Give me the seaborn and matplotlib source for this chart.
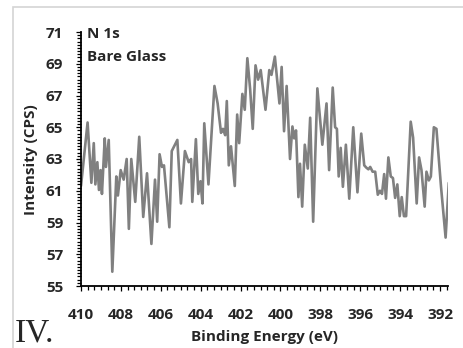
import matplotlib
matplotlib.use("Agg")
import matplotlib.pyplot as plt
import matplotlib.patches as mpatches
from matplotlib.ticker import MultipleLocator
import seaborn as sns
import pandas as pd

# Binding energy (eV) and intensity (CPS)
energy = [410.00, 409.67, 409.48, 409.36, 409.28, 409.18, 409.10, 409.02, 408.95, 408.81,
          408.75, 408.61, 408.43, 408.23, 408.15, 408.01, 407.86, 407.71, 407.60, 407.48,
          407.28, 407.08, 406.88, 406.69, 406.47, 406.29, 406.18, 406.06, 405.94, 405.84,
          405.57, 405.45, 405.17, 404.99, 404.79, 404.60, 404.48, 404.42, 404.24, 404.12,
          404.01, 403.91, 403.82, 403.61, 403.31, 403.15, 402.98, 402.88, 402.77, 402.69,
          402.59, 402.48, 402.29, 402.17, 402.07, 401.91, 401.79, 401.66, 401.52, 401.39,
          401.25, 401.12, 400.99, 400.75, 400.56, 400.45, 400.28, 400.05, 399.94, 399.82,
          399.69, 399.52, 399.40, 399.31, 399.22, 399.10, 399.02, 398.91, 398.78, 398.63,
          398.51, 398.36, 398.15, 397.90, 397.69, 397.56, 397.38, 397.26, 397.17, 397.08,
          396.98, 396.87, 396.72, 396.55, 396.35, 396.14, 395.95, 395.80, 395.69, 395.59,
          395.50, 395.38, 395.25, 395.12, 395.01, 394.91, 394.80, 394.71, 394.59, 394.47,
          394.36, 394.25, 394.14, 394.02, 393.92, 393.81, 393.70, 393.47, 393.35, 393.17,
          393.05, 392.93, 392.77, 392.68, 392.56, 392.46, 392.31, 392.18, 391.95, 391.72,
          391.56]
intensity = [61.3, 65.3, 61.5, 64.0, 61.4, 62.8, 61.05, 62.3, 60.8, 64.3,
             62.5, 64.2, 55.9, 61.9, 60.7, 62.3, 61.7, 63.0, 58.6, 63.0,
             60.3, 64.4, 59.35, 62.1, 57.65, 61.7, 59.05, 63.3, 62.5, 62.6,
             58.7, 63.5, 64.2, 60.2, 63.5, 62.8, 63.0, 60.3, 64.25, 60.8,
             61.6, 60.2, 65.25, 61.4, 67.6, 66.5, 64.65, 64.9, 64.5, 66.65,
             62.6, 63.8, 61.3, 65.8, 64.0, 67.1, 66.1, 69.35, 67.4, 64.9,
             68.9, 68.0, 68.6, 66.1, 68.6, 68.3, 69.45, 66.5, 68.8, 64.75,
             67.6, 63.0, 65.05, 64.3, 64.8, 60.6, 62.7, 60.0, 63.9, 62.4,
             65.6, 59.05, 67.45, 63.9, 66.5, 62.3, 67.5, 65.0, 64.9, 61.9,
             63.7, 61.25, 63.9, 60.5, 65.0, 60.9, 64.6, 62.6, 62.45, 62.35,
             62.5, 62.2, 62.2, 60.75, 61.0, 60.8, 62.05, 60.5, 63.1, 61.9,
             61.8, 60.55, 61.4, 59.4, 60.6, 59.4, 59.4, 65.35, 64.35, 60.2,
             63.1, 62.3, 60.0, 62.2, 61.65, 61.9, 65.0, 64.9, 61.25, 58.05,
             61.5]

y_ticks = [55, 57, 59, 61, 63, 65, 67, 69, 71]
x_ticks = [410, 408, 406, 404, 402, 400, 398, 396, 394, 392]

sns.set_theme(style="white")
plt.rcParams['font.family'] = ['Open Sans', 'DejaVu Sans']

df = pd.DataFrame({"Binding Energy (eV)": energy, "Intensity (CPS)": intensity})

W, H = 464, 348
FS = 11
fig = plt.figure(figsize=(W / 100, H / 100), dpi=100)
# light chart-area border
fig.patches.append(mpatches.Rectangle((13 / W, -0.05), 1.2, 1 - 7 / H + 0.05,
                                      transform=fig.transFigure, fill=False,
                                      edgecolor="#d4d4d4", linewidth=1.2))
ax = fig.add_axes([81 / W, 1 - 286 / H, (448 - 81) / W, (286 - 32) / H])
ax.patch.set_alpha(0)

sns.lineplot(data=df, x="Binding Energy (eV)", y="Intensity (CPS)", ax=ax,
             color="#808080", linewidth=1.9, sort=False)

ax.set_xlim(410, 391.6)
ax.set_ylim(55, 71)
ax.set_xticks(x_ticks)
ax.set_yticks(y_ticks)
ax.xaxis.set_minor_locator(MultipleLocator(1 / 3))
ax.yaxis.set_minor_locator(MultipleLocator(0.2))
for s in ["top", "right"]:
    ax.spines[s].set_visible(False)
for s in ["left", "bottom"]:
    ax.spines[s].set_color("black")
    ax.spines[s].set_linewidth(1.3)
ax.tick_params(axis="both", which="both", direction="out", color="black", width=0.9,
               bottom=True, left=True)
ax.tick_params(axis="both", which="major", length=3.8, labelsize=FS)
ax.tick_params(axis="both", which="minor", length=3)
ax.tick_params(axis="x", which="major", pad=12)
ax.tick_params(axis="y", which="major", pad=9)
for lab in ax.get_xticklabels() + ax.get_yticklabels():
    lab.set_fontweight("bold")

ax.set_xlabel("")
ax.set_ylabel("")
fig.text(265 / W, 1 - 337 / H, "Binding Energy (eV)", ha="center", va="center",
         fontsize=FS, fontweight="bold")
fig.text(31 / W, 1 - 160 / H, "Intensity (CPS)", rotation=90, ha="center", va="center",
         fontsize=FS, fontweight="bold")

fig.text(87 / W, 1 - 34 / H, "N 1s", ha="left", va="center",
         fontsize=FS, fontweight="bold")
fig.text(87 / W, 1 - 57 / H, "Bare Glass", ha="left", va="center",
         fontsize=FS, fontweight="bold")

fig.text(15 / W, 1 - 342 / H, "IV.", family=["Liberation Serif", "DejaVu Serif"],
         fontsize=24, ha="left", va="baseline")

fig.savefig("out.png", dpi=100)
